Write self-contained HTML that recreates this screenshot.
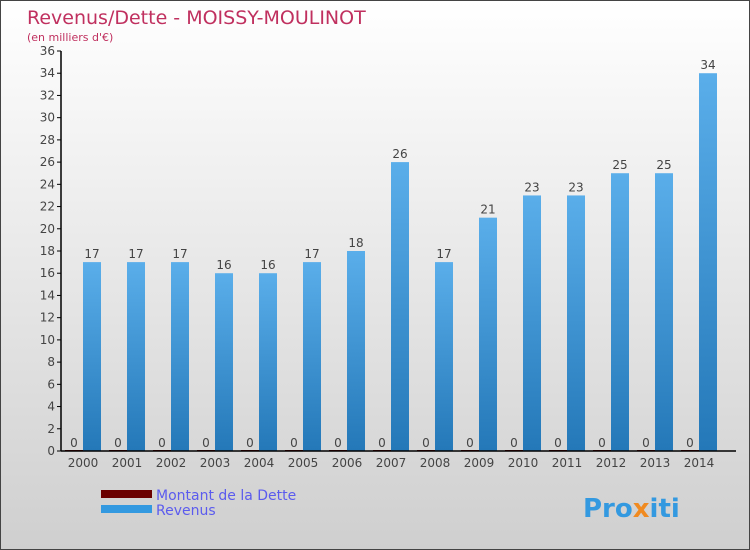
<!DOCTYPE html>
<html><head><meta charset="utf-8"><style>
body{margin:0}
#c{width:750px;height:550px;position:relative;background:linear-gradient(#ffffff,#cfcfcf);border:1px solid #444;box-sizing:border-box;font-family:"DejaVu Sans","Liberation Sans",sans-serif;overflow:hidden}
</style></head><body>
<div id="c">
<svg width="750" height="550" id="svg">
<defs>
<linearGradient id="bg" x1="0" x2="0" y1="0" y2="1"><stop offset="0" stop-color="#5aaeea"/><stop offset="1" stop-color="#2478b8"/></linearGradient>
</defs>
<text x="26" y="23" font-size="19" fill="#c0305f">Revenus/Dette - MOISSY-MOULINOT</text>
<text x="26" y="40" font-size="11" fill="#c0305f">(en milliers d'€)</text>
<g id="plot"></g>
<rect x="100" y="489" width="51" height="8" fill="#6b0000"/>
<text x="155" y="499" font-size="14" fill="#5b5bee">Montant de la Dette</text>
<rect x="100" y="504" width="51" height="8" fill="#3399e0"/>
<text x="155" y="514" font-size="14" fill="#5b5bee">Revenus</text>
<text x="582" y="516" font-size="26" font-weight="bold" fill="#3399e0">Pro<tspan fill="#f08a20">x</tspan>iti</text>
</svg></div>
<script>
const years=["2000","2001","2002","2003","2004","2005","2006","2007","2008","2009","2010","2011","2012","2013","2014"];
const revenus=[17,17,17,16,16,17,18,26,17,21,23,23,25,25,34];
const dette=[0,0,0,0,0,0,0,0,0,0,0,0,0,0,0];
const yTicks=[0,2,4,6,8,10,12,14,16,18,20,22,24,26,28,30,32,34,36];
const NS="http://www.w3.org/2000/svg";
const g=document.getElementById('plot');
const y=v=>450-v*400/36;
const x=i=>82+i*44;
function mk(t,a,txt){const e=document.createElementNS(NS,t);for(const k in a)e.setAttribute(k,a[k]);if(txt!==undefined)e.textContent=txt;g.appendChild(e);return e;}
yTicks.forEach(t=>{
 let l=mk('line',{x1:56,x2:60,y1:y(t),y2:y(t),stroke:'#000'});
 
 
 let tx=mk('text',{x:54,y:y(t)+4,'font-size':12,fill:'#444','text-anchor':'end'},String(t));
 
 
});
years.forEach((yr,i)=>{
 const cx=x(i);
 let d=mk('rect',{x:cx-18,y:y(dette[i])-1,width:18,height:Math.max(1,450-y(dette[i])),fill:'#6b0000'});
 
 
 let dl=mk('text',{x:cx-9,y:y(dette[i])-4,'font-size':12,fill:'#444','text-anchor':'middle'},String(dette[i]));
 
 
 let b=mk('rect',{x:cx,y:y(revenus[i]),width:18,height:450-y(revenus[i]),fill:'url(#bg)'});
 
 
 let bl=mk('text',{x:cx+9,y:y(revenus[i])-4,'font-size':12,fill:'#444','text-anchor':'middle'},String(revenus[i]));
 
 
 let xl=mk('text',{x:cx,y:466,'font-size':12,fill:'#444','text-anchor':'middle'},yr);
 
 
});
let ya=mk('line',{x1:60,x2:60,y1:50,y2:450,stroke:'#000','stroke-width':1.5});


let xa=mk('line',{x1:60,x2:735,y1:450,y2:450,stroke:'#000','stroke-width':1.5});


</script>
</body></html>
